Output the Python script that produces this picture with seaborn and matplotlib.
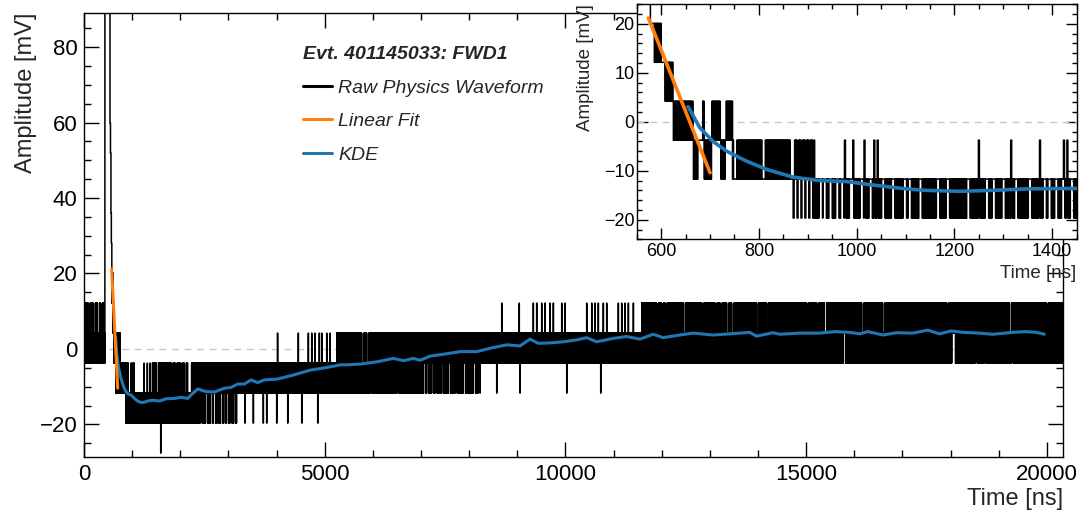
import numpy as np
import matplotlib
matplotlib.use("Agg")
import matplotlib.pyplot as plt
from matplotlib.lines import Line2D
from matplotlib.ticker import MultipleLocator
import seaborn as sns

# ---------------- values ----------------
ADC_LEVELS = [-27.6, -19.65, -11.7, -3.75, 4.2, 12.15, 20.1]   # quantised amplitudes (mV)
SAMPLE_NS = 1
T_END = 20400

# raw waveform bands: the trace toggles through every ADC level from lo to hi
band_t0 = [0, 586, 601, 608, 625, 666, 676, 684, 688, 703, 722, 732, 746, 914, 1450, 3170, 5250, 8180, 11583]
band_t1 = [430, 601, 608, 625, 666, 676, 684, 688, 703, 722, 732, 746, 914, 1450, 3170, 5250, 8180, 11583, 20400]
band_lo = [-3.75, 12.15, 12.15, 4.2, -3.75, -11.7, -3.75, -3.75, -11.7, -3.75, -11.7, -3.75, -11.7,
           -19.65, -19.65, -11.7, -11.7, -3.75, -3.75]
band_hi = [12.15, 20.1, 12.15, 12.15, 4.2, -3.75, -3.75, 4.2, -3.75, 4.2, -3.75, 4.2, -3.75,
           -11.7, -3.75, -3.75, 4.2, 4.2, 12.15]

# the physics pulse (150 mV = off the top of the axis)
pulse_t = [430, 434, 540, 550, 560, 568, 578]
pulse_v = [4.2, 150.0, 59.85, 51.9, 35.99, 28.05, 20.1]
PULSE_END = 586

# white stripes: the top (or bottom) level of a band is missing for a while
upper_gap_t = [85, 190, 280, 335, 405, 1500, 1810, 1890, 2010, 2080, 2150, 2190, 5768, 5872,
               11895, 11999, 12068, 12448, 12830, 13106, 13210, 13349, 13453, 13972, 14180,
               15010, 15218, 15377, 16153, 16589, 17919, 19219, 19995]
lower_gap_t = [2410, 2520, 2630, 2690, 2760, 2830, 2900, 2960, 3030, 3100, 5940, 6495, 7048,
               7118, 7222, 7290, 7430, 7567, 7706, 7878, 8086, 15771, 18022, 18056, 18507,
               18694, 19268]
inset_upper_gap_t = [749, 806, 865]
inset_lower_gap_t = [923, 931, 944, 958, 968, 985, 1008, 1025, 1052, 1072, 1096, 1106, 1127,
                     1164, 1183, 1226, 1263, 1277, 1297, 1324, 1351, 1382, 1392, 1406, 1419, 1438]

# single-sample spikes, grouped by the level they reach (mV)
spike_m27_t = [1593]
spike_m19_t = [870, 878, 886, 894, 902, 910, 3344, 3517, 3724, 3794, 4002, 4231, 4522, 4854]
spike_m11_t = [8225, 8572, 9056, 10026, 10732]
spike_m3_t = [975, 992, 1015, 1035, 1042, 1249, 1315, 1374, 1423, 1430]
spike_p4_t = [4020, 4451, 4659, 4729, 4798, 4887, 4937, 5041, 5110]
spike_p12_t = [8676, 9040, 9332, 9402, 9506, 9575, 9679, 9748, 9922, 9991, 10441, 10545,
               10614, 10682, 10786, 10856, 11098, 11168, 11237, 11306, 11410]

# KDE baseline estimate
kde_t = [655, 679, 706, 734, 774, 815, 870, 924, 979, 1033, 1101, 1142, 1210, 1278, 1346, 1448,
         1566, 1705, 1877, 2016, 2154, 2223, 2361, 2535, 2707, 2915, 3054, 3191, 3330, 3469,
         3606, 3745, 4008, 4353, 4699, 5046, 5322, 5461, 5737, 6083, 6427, 6635, 6843, 6982,
         7189, 7465, 7811, 8158, 8434, 8780, 9056, 9264, 9436, 9678, 9955, 10232, 10440, 10647,
         10992, 11270, 11546, 11822, 12029, 12375, 12652, 13066, 13413, 13828, 13966, 14311,
         14450, 14865, 15280, 15591, 15902, 16110, 16283, 16594, 16871, 17216, 17527, 17770,
         18012, 18253, 18600, 18876, 19290, 19568, 19776, 19948]
kde_v = [3.1, -1.2, -4.0, -6.0, -8.0, -9.7, -11.3, -12.0, -12.2, -12.9, -13.7, -14.0, -14.2, -14.0,
         -13.7, -13.6, -13.8, -13.2, -13.1, -12.8, -13.1, -12.2, -10.6, -11.3, -11.4, -10.4,
         -10.2, -9.3, -9.3, -8.2, -8.9, -8.2, -8.0, -6.9, -5.6, -4.9, -4.2, -4.2, -4.0, -3.4,
         -2.5, -3.1, -2.5, -3.0, -1.9, -1.4, -0.7, -0.7, 0.2, 1.1, 0.8, 2.6, 1.5, 1.6, 1.9, 2.4,
         3.0, 1.9, 2.8, 3.3, 2.6, 3.9, 3.0, 3.7, 4.2, 3.7, 4.0, 4.4, 3.4, 4.3, 3.9, 4.2, 4.2,
         4.6, 4.4, 4.0, 4.6, 3.7, 4.3, 4.2, 5.0, 4.0, 4.8, 4.4, 4.2, 3.9, 4.4, 4.6, 4.4, 3.9]

# linear fit of the falling edge
fit_t = [574, 700]
fit_v = [21.2, -10.4]

# ---------------- build the sampled trace from the read structure ----------------
t = np.arange(0, T_END + SAMPLE_NS, SAMPLE_NS, dtype=float)
levels = np.array(ADC_LEVELS)
wave = np.zeros_like(t)


def level_idx(v):
    return int(np.argmin(np.abs(levels - v)))


def toggle(t0, t1, lo, hi):
    i0, i1 = level_idx(lo), level_idx(hi)
    up = list(range(i0, i1 + 1))
    cycle = up + up[-2:0:-1]
    sel = (t >= t0) & (t < t1)
    wave[sel] = levels[np.resize(np.array(cycle), int(sel.sum()))]


def band_at(tt):
    for a, b, lo, hi in zip(band_t0, band_t1, band_lo, band_hi):
        if a <= tt < b:
            return lo, hi
    return band_lo[-1], band_hi[-1]


def gap(tt, dur, side):
    lo, hi = band_at(tt)
    i0, i1 = level_idx(lo), level_idx(hi)
    if side == "upper":
        i1 = max(i0, i1 - 1)
    else:
        i0 = min(i1, i0 + 1)
    toggle(tt, tt + dur, levels[i0], levels[i1])


for a, b, lo, hi in zip(band_t0, band_t1, band_lo, band_hi):
    toggle(a, b, lo, hi)
for g in upper_gap_t:
    gap(g, 45, "upper")
for g in lower_gap_t:
    gap(g, 45, "lower")
for g in inset_upper_gap_t:
    gap(g, 6, "upper")
for g in inset_lower_gap_t:
    gap(g, 6, "lower")
for k, p in enumerate(pulse_t):
    nxt = pulse_t[k + 1] if k + 1 < len(pulse_t) else PULSE_END
    wave[(t >= p) & (t < nxt)] = pulse_v[k]
for lst, v in [(spike_m27_t, -27.6), (spike_m19_t, -19.65), (spike_m11_t, -11.7),
               (spike_m3_t, -3.75), (spike_p4_t, 4.2), (spike_p12_t, 12.15)]:
    for s in lst:
        i = np.searchsorted(t, s)
        wave[i:i + 2] = v

# ---------------- style ----------------
sns.set_theme(style="ticks")
plt.rcParams["font.family"] = ["Liberation Sans", "DejaVu Sans"]
plt.rcParams["path.simplify"] = False
plt.rcParams["axes.edgecolor"] = "black"
plt.rcParams["axes.linewidth"] = 1.0

ORANGE = "#ff7f0e"
BLUE = "#1f77b4"

fig = plt.figure(figsize=(10.81, 5.18), dpi=100, facecolor="white")
ax = fig.add_axes([0.0777, 0.1172, 0.9059, 0.8583])
axin = fig.add_axes([0.5890, 0.5380, 0.4070, 0.4537])


def draw(a, lw_raw, lw_fit):
    a.set_facecolor("white")
    a.axhline(0, color="#c8c8c8", ls=(0, (5, 4)), lw=1.0, zorder=1)
    sns.lineplot(x=t, y=wave, ax=a, color="black", lw=lw_raw, drawstyle="steps-post",
                 estimator=None, sort=False, zorder=2)
    sns.lineplot(x=kde_t, y=kde_v, ax=a, color=BLUE, lw=lw_fit, estimator=None,
                 sort=False, zorder=3)
    sns.lineplot(x=fit_t, y=fit_v, ax=a, color=ORANGE, lw=lw_fit, estimator=None,
                 sort=False, zorder=4)
    a.tick_params(which="both", direction="in", top=True, right=True, color="black",
                  width=1.0, labelcolor="black")
    for s in a.spines.values():
        s.set_color("black")
        s.set_linewidth(1.0)


draw(ax, 1.1, 2.2)
ax.set_xlim(0, 20340)
ax.set_ylim(-28.7, 89.1)
ax.xaxis.set_major_locator(MultipleLocator(5000))
ax.xaxis.set_minor_locator(MultipleLocator(1000))
ax.yaxis.set_major_locator(MultipleLocator(20))
ax.yaxis.set_minor_locator(MultipleLocator(5))
ax.tick_params(which="major", length=10.5, labelsize=16)
ax.tick_params(which="minor", length=5)
ax.tick_params(axis="x", which="major", pad=5)
ax.tick_params(axis="y", which="major", pad=4.5)
ax.set_xlabel("Time [ns]", fontsize=17, loc="right")
ax.xaxis.set_label_coords(1.0, -0.07)
ax.set_ylabel("Amplitude [mV]", fontsize=17, loc="top")
ax.yaxis.set_label_coords(-0.048, 1.0)

handles = [Line2D([], [], color="black", lw=2.2), Line2D([], [], color=ORANGE, lw=2.2),
           Line2D([], [], color=BLUE, lw=2.2)]
ax.legend(handles, ["Raw Physics Waveform", "Linear Fit", "KDE"],
          title="Evt. 401145033: FWD1", loc="upper left",
          bbox_to_anchor=(303 / 1081, 1 - 46 / 518), bbox_transform=fig.transFigure,
          frameon=False, prop={"style": "italic", "size": 14},
          title_fontproperties={"weight": "bold", "style": "italic", "size": 14},
          alignment="left", handlelength=1.5, handletextpad=0.3, labelspacing=0.82,
          borderpad=0, borderaxespad=0)

draw(axin, 1.1, 2.6)
axin.set_xlim(550, 1450)
axin.set_ylim(-24, 24)
axin.xaxis.set_major_locator(MultipleLocator(200))
axin.xaxis.set_minor_locator(MultipleLocator(50))
axin.yaxis.set_major_locator(MultipleLocator(10))
axin.yaxis.set_minor_locator(MultipleLocator(2))
axin.tick_params(which="major", length=8, labelsize=13)
axin.tick_params(which="minor", length=3.5)
axin.tick_params(axis="x", which="major", pad=2.5)
axin.tick_params(axis="y", which="major", pad=1.5)
axin.set_xlabel("Time [ns]", fontsize=13.5, loc="right")
axin.set_ylabel("Amplitude [mV]", fontsize=13.5, loc="top")
axin.yaxis.set_label_coords(-0.097, 1.0)

fig.savefig("out.png", dpi=100, facecolor="white")
